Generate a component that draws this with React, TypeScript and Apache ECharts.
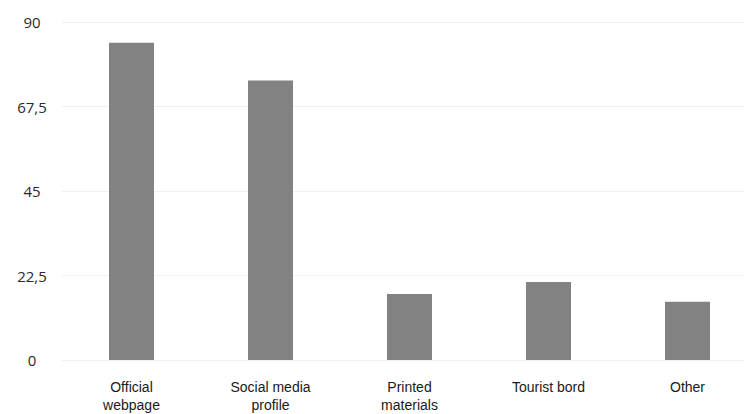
import React, { useEffect, useRef } from "react";
import * as echarts from "echarts";

const categories = ["Official\nwebpage", "Social media\nprofile", "Printed\nmaterials", "Tourist bord", "Other"];
const values = [84.5, 74.4, 17.6, 20.8, 15.5];
const yTicks = [0, 22.5, 45, 67.5, 90];

export default function App() {
  const ref = useRef<HTMLDivElement>(null);
  useEffect(() => {
    if (!ref.current) return;
    const chart = echarts.init(ref.current, null, { renderer: "svg" });
    chart.setOption({
      animation: false,
      backgroundColor: "#ffffff",
      grid: { left: 62, right: 13, top: 22, bottom: 54, containLabel: false },
      xAxis: {
        type: "category",
        data: categories,
        axisLine: { show: false },
        axisTick: { show: false },
        axisLabel: {
          color: "#1a1a1a",
          fontFamily: "Liberation Sans, Arial, sans-serif",
          fontSize: 14,
          lineHeight: 18,
          margin: 18,
          interval: 0,
        },
      },
      yAxis: {
        type: "value",
        min: 0,
        max: 90,
        interval: 22.5,
        axisLine: { show: false },
        axisTick: { show: false },
        splitLine: { show: true, lineStyle: { color: "#f0f0f0", width: 1 } },
        axisLabel: {
          color: "#2a2a2a",
          fontFamily: "Open Sans, sans-serif",
          fontSize: 15,
          align: "center",
          margin: 30,
          formatter: (v: number) => (yTicks.includes(v) ? String(v).replace(".", ",") : ""),
        },
      },
      series: [
        {
          type: "bar",
          data: values,
          barWidth: 45,
          itemStyle: { color: "#828282" },
        },
      ],
    });
    return () => chart.dispose();
  }, []);
  return (
    <div style={{ position: "absolute", left: 0, top: 0, width: 744, height: 414, overflow: "hidden" }}>
      <div ref={ref} style={{ width: 770, height: 414 }} />
    </div>
  );
}
